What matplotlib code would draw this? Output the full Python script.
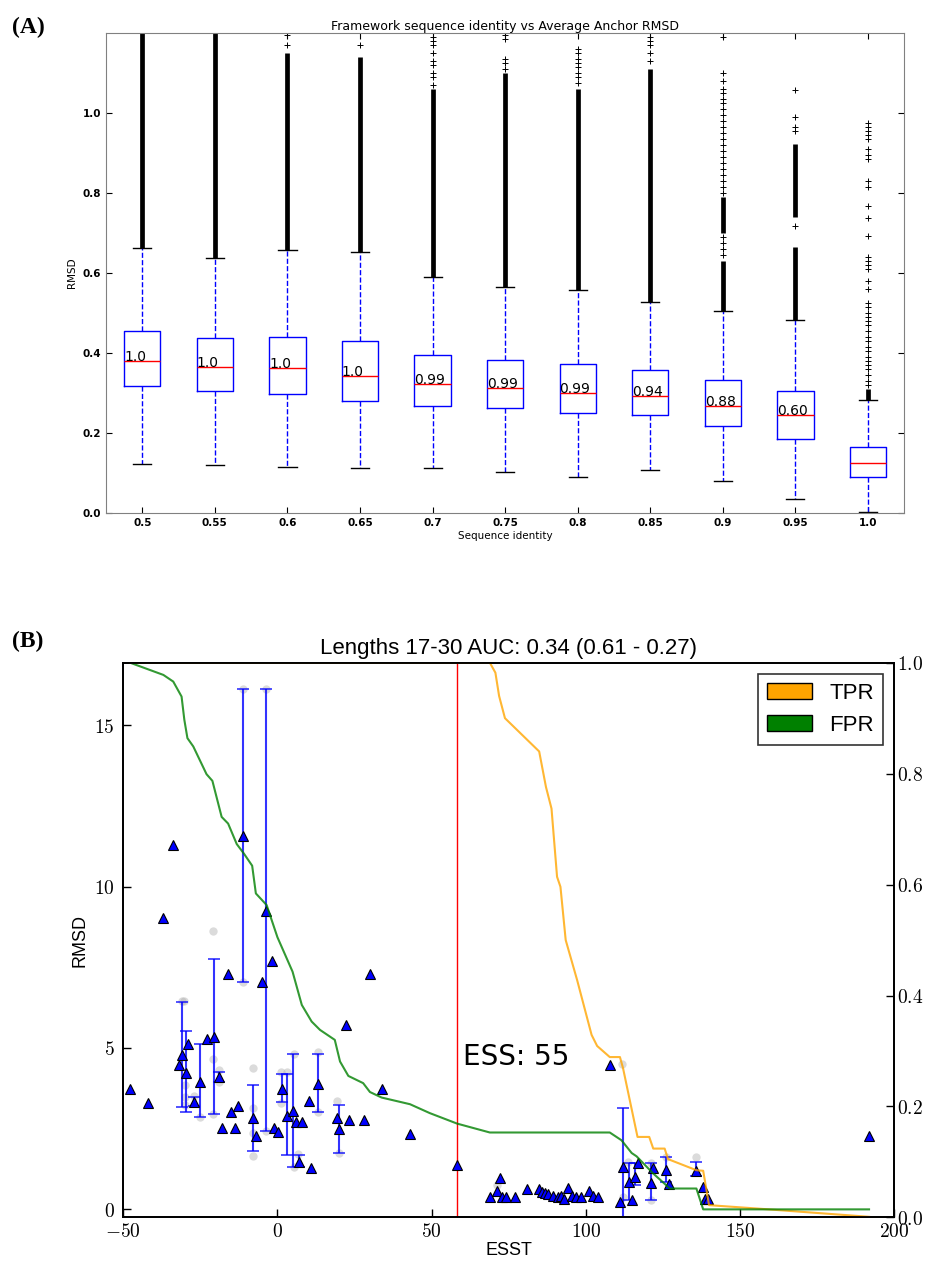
import numpy as np
import matplotlib.pyplot as plt
from matplotlib.patches import Patch
from matplotlib.ticker import FuncFormatter

plt.rcParams['mathtext.fontset'] = 'cm'

# ---------------- panel A: boxplot data ----------------
identity = ['0.5', '0.55', '0.6', '0.65', '0.7', '0.75', '0.8', '0.85', '0.9', '0.95', '1.0']
q1 = [0.318, 0.306, 0.298, 0.281, 0.267, 0.262, 0.249, 0.244, 0.218, 0.186, 0.091]
med = [0.379, 0.366, 0.362, 0.343, 0.323, 0.313, 0.299, 0.293, 0.268, 0.246, 0.124]
q3 = [0.455, 0.437, 0.441, 0.430, 0.395, 0.383, 0.372, 0.358, 0.332, 0.305, 0.165]
whis_lo = [0.122, 0.120, 0.115, 0.112, 0.112, 0.103, 0.091, 0.108, 0.080, 0.034, 0.002]
whis_hi = [0.661, 0.638, 0.658, 0.651, 0.590, 0.564, 0.558, 0.528, 0.504, 0.482, 0.283]
frac_labels = ['1.0', '1.0', '1.0', '1.0', '0.99', '0.99', '0.99', '0.94', '0.88', '0.60', '']

# ranges where outliers are packed so tightly they form a solid column
dense_ranges = [
    [(0.661, 1.20)],
    [(0.638, 1.20)],
    [(0.658, 1.15)],
    [(0.651, 1.14)],
    [(0.590, 1.06)],
    [(0.564, 1.10)],
    [(0.558, 1.06)],
    [(0.528, 1.11)],
    [(0.504, 0.63), (0.70, 0.79)],
    [(0.482, 0.665), (0.74, 0.923)],
    [(0.283, 0.31)],
]
# isolated outliers
sparse_fliers = [
    [],
    [],
    [1.17, 1.194],
    [1.17],
    [1.07, 1.09, 1.10, 1.12, 1.13, 1.15, 1.17, 1.18, 1.19],
    [1.11, 1.125, 1.135, 1.185, 1.195],
    [1.075, 1.09, 1.10, 1.115, 1.125, 1.135, 1.15, 1.16],
    [1.13, 1.15, 1.17, 1.18, 1.19],
    [0.645, 0.66, 0.675, 0.69, 0.80, 0.815, 0.83, 0.845, 0.86, 0.875, 0.89, 0.905,
     0.92, 0.935, 0.95, 0.965, 0.98, 0.995, 1.01, 1.025, 1.035, 1.05, 1.06, 1.08, 1.10, 1.19],
    [0.718, 0.955, 0.965, 0.99, 1.057],
    [0.32, 0.33, 0.345, 0.36, 0.37, 0.38, 0.39, 0.405, 0.415, 0.43, 0.44, 0.455, 0.47,
     0.48, 0.49, 0.50, 0.515, 0.524, 0.561, 0.579, 0.61, 0.62, 0.63, 0.64, 0.693, 0.738,
     0.768, 0.815, 0.83, 0.885, 0.895, 0.91, 0.935, 0.945, 0.955, 0.965, 0.975],
]

# ---------------- panel B: ESST scatter ----------------
tri_x = [-47.8, -42.1, -37.0, -33.8, -31.9, -30.9, -29.8, -28.9, -27.0, -25.1, -23.0, -20.7,
         -19.1, -17.9, -16.2, -15.1, -13.9, -12.9, -11.1, -7.8, -7.0, -4.9, -3.8, -1.9, -1.0,
         0.05, 1.35, 3.0, 5.2, 5.9, 7.0, 8.1, 10.3, 11.0, 13.2, 19.2, 19.9, 22.1, 23.2, 28.2,
         30.0, 34.0, 43.0, 58.3, 68.9, 71.1, 72.1, 72.7, 74.1, 77.0, 81.1, 84.9, 85.7, 86.7,
         87.8, 89.4, 91.1, 92.1, 93.0, 94.1, 95.4, 96.8, 98.6, 101.1, 102.2, 104.0, 107.8,
         111.1, 112.1, 114.1, 115.1, 115.9, 117.0, 121.1, 121.8, 125.9, 127.0, 135.7, 138.1,
         138.6, 139.8, 191.9]
tri_y = [3.73, 3.28, 9.04, 11.29, 4.47, 4.78, 4.23, 5.11, 3.31, 3.96, 5.28, 5.33,
         4.11, 2.53, 7.28, 3.00, 2.53, 3.20, 11.57, 2.82, 2.28, 7.03, 9.24, 7.70, 2.53,
         2.41, 3.73, 2.89, 3.05, 2.70, 1.47, 2.71, 3.36, 1.29, 3.88, 2.83, 2.48, 5.70, 2.77, 2.77,
         7.28, 3.73, 2.34, 1.38, 0.39, 0.58, 0.96, 0.37, 0.37, 0.37, 0.62, 0.62, 0.53, 0.50,
         0.48, 0.41, 0.39, 0.41, 0.31, 0.67, 0.41, 0.39, 0.37, 0.58, 0.41, 0.39, 4.47,
         0.22, 1.32, 0.84, 0.28, 0.99, 1.42, 0.83, 1.29, 1.22, 0.78, 1.19, 0.70,
         0.31, 0.31, 2.28]

eb_x = [-30.9, -29.8, -27.0, -25.1, -20.7, -19.1, -11.1, -7.8, -3.8, 1.35, 3.0, 5.2, 7.0,
        13.2, 19.9, 112.1, 114.1, 115.9, 121.1, 125.9, 135.7]
eb_y = [4.78, 4.23, 3.31, 3.96, 5.33, 4.11, 11.57, 2.82, 9.24, 3.73, 2.89, 3.05, 1.47,
        3.88, 2.48, 1.32, 0.84, 0.99, 0.83, 1.22, 1.19]
eb_lo = [3.18, 3.03, 3.20, 2.85, 2.94, 3.95, 7.05, 1.81, 2.43, 3.32, 1.68, 1.32, 1.30,
         3.03, 1.75, -0.6, 0.29, 0.74, 0.30, 0.86, 1.03]
eb_hi = [6.43, 5.53, 3.49, 5.12, 7.76, 4.26, 16.14, 3.84, 16.14, 4.18, 4.18, 4.81, 1.68,
         4.81, 3.23, 3.15, 1.43, 1.43, 1.44, 1.63, 1.48]

circ_x = [-30.9, -30.3, -30.1, -30.1, -30.1, -25.1, -20.8, -20.8, -21.0, -19.0, -19.0,
          -11.1, -11.1, -3.8, -3.8, -7.8, -7.8, -7.8, -7.8, 1.0, 3.0, 1.0, 5.3, 5.3, 6.7,
          13.2, 13.2, 19.2, 19.9, 71.1, 111.9, 112.1, 113.7, 121.1, 121.1, 126.0, 135.7,
          -27.0]
circ_y = [6.46, 6.46, 3.85, 3.49, 3.23, 2.85, 4.66, 2.94, 8.62, 4.32, 3.96,
          16.14, 7.05, 16.14, 2.43, 4.37, 3.13, 2.35, 1.65, 4.25, 4.25, 3.30, 4.82, 1.32, 1.70,
          4.87, 3.03, 3.37, 1.75, 0.75, 4.50, 0.39, 1.47, 1.43, 0.30, 1.63, 1.63,
          3.52]

tpr_x = [-47.8, 68.9, 70.7, 71.9, 73.8, 84.9, 87.1, 88.9, 90.7, 91.8, 93.5, 97.2, 101.9,
         103.7, 107.8, 111.1, 112.1, 116.8, 120.6, 121.9, 125.6, 126.7, 135.9, 138.1, 140.0,
         155.4, 191.9]
tpr_v = [1.0, 1.0, 0.982, 0.940, 0.900, 0.840, 0.776, 0.737, 0.614, 0.596, 0.500, 0.428,
         0.329, 0.309, 0.289, 0.289, 0.269, 0.145, 0.145, 0.124, 0.124, 0.105, 0.085, 0.084,
         0.022, 0.016, 0.001]
fpr_x = [-47.8, -37.0, -33.8, -31.1, -30.2, -29.2, -27.3, -23.0, -21.1, -18.1, -16.0, -13.2,
         -10.9, -8.2, -7.0, -3.5, 0.0, 4.9, 7.9, 11.1, 13.8, 18.6, 20.3, 23.0, 27.8, 30.0,
         33.8, 43.0, 49.4, 58.3, 68.9, 107.8, 111.6, 114.9, 116.5, 121.9, 127.3, 135.9,
         138.1, 191.9]
fpr_v = [1.0, 0.978, 0.966, 0.939, 0.897, 0.864, 0.849, 0.799, 0.787, 0.722, 0.710, 0.673,
         0.656, 0.634, 0.584, 0.563, 0.505, 0.443, 0.383, 0.353, 0.338, 0.320, 0.281, 0.255,
         0.242, 0.226, 0.216, 0.204, 0.188, 0.169, 0.153, 0.153, 0.139, 0.116, 0.110, 0.079,
         0.052, 0.052, 0.0144, 0.0144]
ess_x = 58.3

fig = plt.figure(figsize=(9.25, 12.64), dpi=100)

# ================= (A) =================
ax = fig.add_axes([0.1146, 0.5941, 0.863, 0.3800])
pos = np.arange(1, len(identity) + 1)
stats = []
for i in range(len(identity)):
    stats.append(dict(med=med[i], q1=q1[i], q3=q3[i], whislo=whis_lo[i],
                      whishi=whis_hi[i], fliers=sparse_fliers[i], label=identity[i]))
for i, segs in enumerate(dense_ranges):
    for lo, hi in segs:
        ax.vlines(pos[i], lo, hi, color='k', lw=3.4, zorder=1)
ax.bxp(stats, positions=pos, widths=0.5,
       boxprops=dict(color='b', lw=1),
       whiskerprops=dict(color='b', ls='--', lw=1),
       capprops=dict(color='k', lw=1),
       medianprops=dict(color='r', lw=1),
       flierprops=dict(marker='+', markeredgecolor='k', markersize=5, mew=0.7))
for i, lab in enumerate(frac_labels):
    if lab:
        ax.text(pos[i] - 0.25, med[i], lab, fontsize=10, va='baseline', ha='left')
ax.set_xlim(0.5, 11.5)
ax.set_ylim(0, 1.2)
ax.set_yticks([0.0, 0.2, 0.4, 0.6, 0.8, 1.0])
ax.set_xticks(pos)
ax.set_xticklabels(identity)
ax.tick_params(direction='in', top=True, right=True, labelsize=7.5, length=4)
for t in ax.get_xticklabels() + ax.get_yticklabels():
    t.set_fontweight('bold')
for s in ax.spines.values():
    s.set_color('#808080')
ax.set_title('Framework sequence identity vs Average Anchor RMSD', fontsize=9, pad=2)
ax.set_xlabel('Sequence identity', fontsize=7.5, labelpad=2)
ax.set_ylabel('RMSD', fontsize=7.5, labelpad=4)

# ================= (B) =================
bx = fig.add_axes([0.1333, 0.0369, 0.8332, 0.4388])
bx.plot(circ_x, circ_y, 'o', color='#b0b0b0', alpha=0.45, markersize=6, mec='none', zorder=1)
yerr = [np.array(eb_y) - np.array(eb_lo), np.array(eb_hi) - np.array(eb_y)]
bx.errorbar(eb_x, eb_y, yerr=yerr, fmt='none', ecolor='b', alpha=0.8,
            elinewidth=1.5, capsize=4, capthick=1.2, zorder=2)
bx.plot(tri_x, tri_y, '^', mfc='b', mec='k', mew=0.8, markersize=7, ls='none', zorder=3)
bx.axvline(ess_x, color='r', lw=1)
bx.text(ess_x + 1.8, 4.72, 'ESS: 55', fontsize=20, va='center', ha='left')
bx.set_xlim(-50, 200)
bx.set_ylim(-0.25, 16.94)
bx.set_xticks([-50, 0, 50, 100, 150, 200])
bx.set_yticks([0, 5, 10, 15])
fmt = FuncFormatter(lambda v, p: '$%g$' % v)
bx.xaxis.set_major_formatter(fmt)
bx.yaxis.set_major_formatter(fmt)
bx.tick_params(direction='in', labelsize=14, length=6, width=1, pad=6)
bx.tick_params(axis='x', pad=3)
for s in bx.spines.values():
    s.set_linewidth(1.3)
bx.set_xlabel('ESST', fontsize=13, family='Liberation Sans', labelpad=1)
bx.set_ylabel('RMSD', fontsize=13, family='Liberation Sans', labelpad=4)
bx.set_title('Lengths 17-30 AUC: 0.34 (0.61 - 0.27)', fontsize=16,
             family='Liberation Sans', pad=6)

br = bx.twinx()
br.plot(tpr_x, tpr_v, color='orange', lw=1.5, alpha=0.8)
br.plot(fpr_x, fpr_v, color='green', lw=1.5, alpha=0.8)
br.set_ylim(0, 1)
br.set_yticks([0.0, 0.2, 0.4, 0.6, 0.8, 1.0])
br.yaxis.set_major_formatter(FuncFormatter(lambda v, p: '$%.1f$' % v))
br.tick_params(direction='in', labelsize=14, length=6, width=1, pad=2)
for s in br.spines.values():
    s.set_linewidth(1.3)
handles = [Patch(facecolor='orange', edgecolor='k', label='TPR'),
           Patch(facecolor='green', edgecolor='k', label='FPR')]
leg = br.legend(handles=handles, loc='upper right', fancybox=False,
                handlelength=2.0, handleheight=0.7, handletextpad=0.8,
                prop={'family': 'Liberation Sans', 'size': 16})
leg.get_frame().set_edgecolor('k')
leg.get_frame().set_linewidth(1.2)

fig.text(0.013, 0.9786, '(A)', fontsize=17, fontweight='bold', family='Liberation Serif',
         va='center', ha='left')
fig.text(0.013, 0.4929, '(B)', fontsize=17, fontweight='bold', family='Liberation Serif',
         va='center', ha='left')

fig.savefig('out.png', dpi=100)
